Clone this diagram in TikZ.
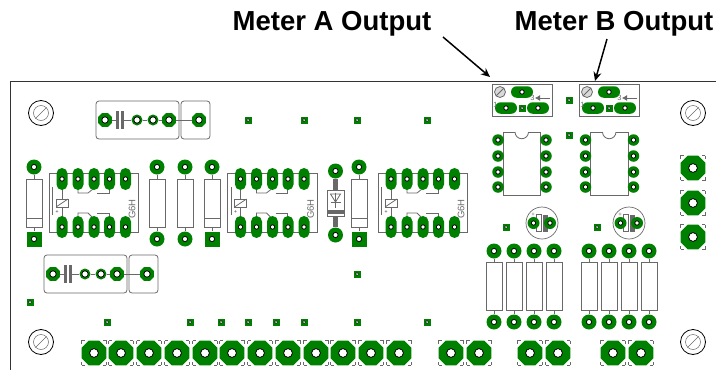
\documentclass[tikz,border=0pt]{standalone}
\usepackage{fontspec}
\setmainfont{Liberation Sans}
\usepackage{xcolor}
\usepackage{tikz}
\usetikzlibrary{arrows.meta, positioning, shapes.geometric, shapes.misc}
\definecolor{pcbgreen}{RGB}{0,128,0}
\definecolor{partgray}{RGB}{105,105,105}
\tikzset{
	hole/.style={path picture={\draw[black,fill=white,line width=.8pt] (path picture bounding box.center) circle (#1);}},
	padround/.style={circle, fill=pcbgreen, inner sep=0pt, minimum size=15pt, hole=2.6pt},
	padic/.style={circle, fill=pcbgreen, inner sep=0pt, minimum size=11.5pt, hole=2.2pt},
	padring/.style={circle, fill=pcbgreen, inner sep=0pt, minimum size=11pt, hole=3.2pt},
	padsquare/.style={rectangle, fill=pcbgreen, inner sep=0pt, minimum size=15pt, hole=2.6pt},
	padoct/.style={regular polygon, regular polygon sides=8, fill=pcbgreen, inner sep=0pt, minimum size=15pt, hole=3.2pt},
	padbig/.style={regular polygon, regular polygon sides=8, fill=pcbgreen, inner sep=0pt, minimum size=27pt, hole=4.4pt},
	padmark/.style={rectangle, draw=partgray, line width=.7pt, inner sep=0pt, minimum size=24.5pt, dash pattern=on 3pt off 18.5pt on 3pt off 0pt},
	padlong/.style={rounded rectangle, fill=pcbgreen, inner sep=0pt, minimum width=22pt, minimum height=11pt, hole=2.2pt},
	padwide/.style={rounded rectangle, fill=pcbgreen, inner sep=0pt, minimum width=22pt, minimum height=11.5pt, hole=2.2pt},
	via/.style={rectangle, fill=pcbgreen, inner sep=0pt, minimum size=7pt, path picture={\draw[black,fill=white,line width=.5pt] (path picture bounding box.center) circle (1.6pt);}},
	body/.style={rectangle, draw=partgray, fill=white, line width=.8pt, inner sep=0pt, minimum width=16pt, minimum height=48pt},
	part/.style={draw=partgray, line width=.8pt},
	mounthole/.style={circle, draw=black, line width=.8pt, inner sep=0pt, minimum size=25pt},
	title/.style={font=\fontsize{27.5}{27.5}\selectfont\bfseries, inner sep=0pt, anchor=base},
	callout/.style={-{Stealth[length=9pt,width=8pt]}, line width=1.5pt}
}
\begin{document}
\begin{tikzpicture}[x=1pt, y=-1pt]
	\useasboundingbox (0,0) rectangle (716,370);
	\draw[line width=.8pt, draw=black!80] (10,370) -- (10,81.5) -- (716,81.5);
	\node[title] (metera) at (332,30) {Meter A Output};
	\node[title] (meterb) at (614,30) {Meter B Output};
	\coordinate (astart) at (443,37);
	\coordinate (aend) at (490,77);
	\coordinate (bstart) at (607,39);
	\coordinate (bend) at (595,81);
	\draw[callout] (astart) -- (aend);
	\draw[callout] (bstart) -- (bend);
	\foreach \n/\x/\y in {a/41/113, b/41/342, c/693/113, d/693/342} {
		\node[mounthole] (hole\n) at (\x,\y) {};
		\draw[part, line width=.5pt] (hole\n) circle (7.5pt);
		\draw[part, line width=.5pt] (\x-5.5,\y+5.5) -- (\x+5.5,\y-5.5);
	}
	\foreach \n/\x/\y in {a/248/120, b/304/120, c/357/120, d/427/120, e/357/274, f/30/302, g/107/322, h/190/322, i/221/322, j/248/322, k/276/322, l/304/322, m/357/322, n/427/322, o/569/100, p/569/135, q/506/227, r/597/227} {
		\node[via] (via\n) at (\x,\y) {};
	}
	\foreach \n/\x/\y in {a/94/353, b/121/353, c/149/353, d/177/353, e/205/353, f/232/353, g/260/353, h/288/353, i/316/353, j/343/353, k/371/353, l/399/353, m/451/353, n/479/353, o/530/353, p/558/353, q/613/353, r/641/353, s/693/168, t/693/203, u/693/237} {
		\node[padmark] at (\x,\y) {};
		\node[padbig] (big\n) at (\x,\y) {};
	}
	\foreach \n/\x/\y/\d in {a/96/101/0, b/44/255/-52} {
		\draw[part, rounded corners=3pt] (\x,\y) rectangle ++(83,38);
		\draw[part, rounded corners=3pt] (\x+85,\y) rectangle ++(29,38);
		\node[padoct] (capa\n) at (\x+9,\y+19) {};
		\node[padring] (capb\n) at (\x+41,\y+19) {};
		\node[padring] (capc\n) at (\x+57,\y+19) {};
		\node[padoct] (capd\n) at (\x+73,\y+19) {};
		\node[padoct] (cape\n) at (\x+103,\y+19) {};
		\draw[part] (capa\n) -- ++(12,0);
		\draw[part] (capb\n) -- ++(-15,0);
		\draw[part] (capb\n) -- (capc\n);
		\draw[part] (capc\n) -- (capd\n);
		\draw[part] (capd\n) -- (cape\n);
		\fill[partgray] (\x+20,\y+10) rectangle ++(2.5,18);
		\fill[partgray] (\x+25,\y+10) rectangle ++(2.5,18);
	}
	\foreach \n/\x/\t/\b/\k in {a/34/padround/padsquare/1, b/157/padround/padround/0, c/185/padround/padround/0, d/212/padround/padsquare/1, e/359/padround/padsquare/1} {
		\node[\t] (rt\n) at (\x,167) {};
		\node[\b] (rb\n) at (\x,239) {};
		\node[body] (rbody\n) at (\x,203) {};
		\draw[part] (rt\n) -- (rbody\n);
		\draw[part] (rb\n) -- (rbody\n);
		\ifnum\k=1 \draw[part] (\x-8,218) -- (\x+8,218); \fi
	}
	\foreach \n/\x in {a/49, b/227.5, c/378} {
		\draw[part] (\x,173) rectangle ++(89.5,59);
		\draw[part] (\x+3.5,187) -- ++(0,28);
		\draw[part] (\x+13,185) -- ++(0,40);
		\draw[part, fill=white] (\x+7,199) rectangle ++(12,8);
		\draw[part] (\x+7,207) -- ++(12,-8);
		\draw[part] (\x+29,185) |- ++(10,8) -- ++(5,-4);
		\draw[part] (\x+48,193) -| (\x+60,185);
		\draw[part] (\x+29,220) |- ++(10,-7) -- ++(5,5);
		\draw[part] (\x+48,213) -| (\x+60,220);
		\node[text=partgray, font=\fontsize{5}{5}\selectfont\bfseries, inner sep=0pt] (plus\n) at (\x+8,212) {+};
		\node[text=partgray, font=\fontsize{9.5}{9.5}\selectfont, rotate=90, inner sep=0pt] (type\n) at (\x+83,209) {G6H};
		\foreach \i/\d in {1/13, 2/29, 3/45, 4/60.5, 5/76.5} {
			\node[padlong, rotate=90] (rel\n t\i) at (\x+\d,179) {};
			\node[padlong, rotate=90] (rel\n b\i) at (\x+\d,227) {};
		}
	}
	\node[padround] (dioa) at (335.5,171) {};
	\node[padround] (diob) at (335.5,235) {};
	\draw[draw=partgray, line width=5pt] (dioa) -- (diob);
	\node[rectangle, draw=partgray, fill=white, line width=.8pt, inner sep=0pt, minimum width=17pt, minimum height=26pt] (diobody) at (335.5,203) {};
	\fill[partgray] (327,210) rectangle (344,214);
	\draw[part] (335.5,192.5) -- (335.5,207.5);
	\draw[part] (330.5,194) -- (340.5,194) -- (335.5,202) -- cycle;
	\draw[part] (330.5,202) -- (340.5,202);
	\foreach \n/\x in {a/492, b/579} {
		\node[rectangle, draw=partgray, fill=white, line width=.8pt, inner sep=0pt, minimum width=60pt, minimum height=32pt] (trim\n) at (\x+30,100) {};
		\draw[part, fill=black!15] (\x+8,92) circle (5.5pt);
		\draw[part] (\x+4,96) -- (\x+12,88);
		\node[padwide] (trimw\n) at (\x+30,92) {};
		\node[padwide] (trimcw\n) at (\x+14,108) {};
		\node[padwide] (trimccw\n) at (\x+46,108) {};
		\node[via] (trimv\n) at (\x+30,108) {};
		\node[text=partgray, font=\fontsize{7.5}{7.5}\selectfont, inner sep=0pt] (trimt\n) at (\x+40.5,98) {3};
		\node[text=partgray, font=\fontsize{7.5}{7.5}\selectfont, inner sep=0pt] (trimo\n) at (\x+3.5,105) {1};
		\draw[part, -{Latex[length=5pt,width=6pt]}] (\x+58,98) -- (\x+43,98);
	}
	\foreach \n/\x in {a/503, b/590.5} {
		\node[rectangle, draw=partgray, fill=white, line width=.8pt, inner sep=0pt, minimum width=37.5pt, minimum height=63pt] (ic\n) at (\x+18.75,163.5) {};
		\draw[part, fill=white] (\x+12,132) arc (180:360:6.75pt);
		\foreach \i/\y in {1/140, 2/156, 3/172, 4/187} {
			\node[padic] (ic\n l\i) at (\x-5,\y) {};
			\node[padic] (ic\n r\i) at (\x+43,\y) {};
		}
	}
	\foreach \n/\x in {a/542, b/629} {
		\node[circle, draw=partgray, line width=.7pt, inner sep=0pt, minimum size=32pt] (elko\n) at (\x,223) {};
		\draw[part, fill=white] (\x-6,214.5) rectangle ++(5,17);
		\fill[partgray] (\x+1,214.5) rectangle ++(4.5,17);
		\node[circle, fill=pcbgreen, inner sep=0pt, minimum size=12pt, hole=2.2pt] (elko\n a) at (\x-8.5,223) {};
		\node[circle, fill=pcbgreen, inner sep=0pt, minimum size=12pt, hole=2.2pt] (elko\n b) at (\x+8,223) {};
		\node[text=partgray, font=\fontsize{6}{6}\selectfont, inner sep=0pt] (elko\n p) at (\x-9,215) {+};
	}
	\foreach \n/\x in {a/494, b/514, c/534, d/554, e/589, f/609, g/629, h/649} {
		\node[padround] (st\n) at (\x,251) {};
		\node[padround] (sb\n) at (\x,322) {};
		\node[body] (sbody\n) at (\x,286) {};
		\draw[part] (st\n) -- (sbody\n);
		\draw[part] (sb\n) -- (sbody\n);
	}
\end{tikzpicture}
\end{document}
